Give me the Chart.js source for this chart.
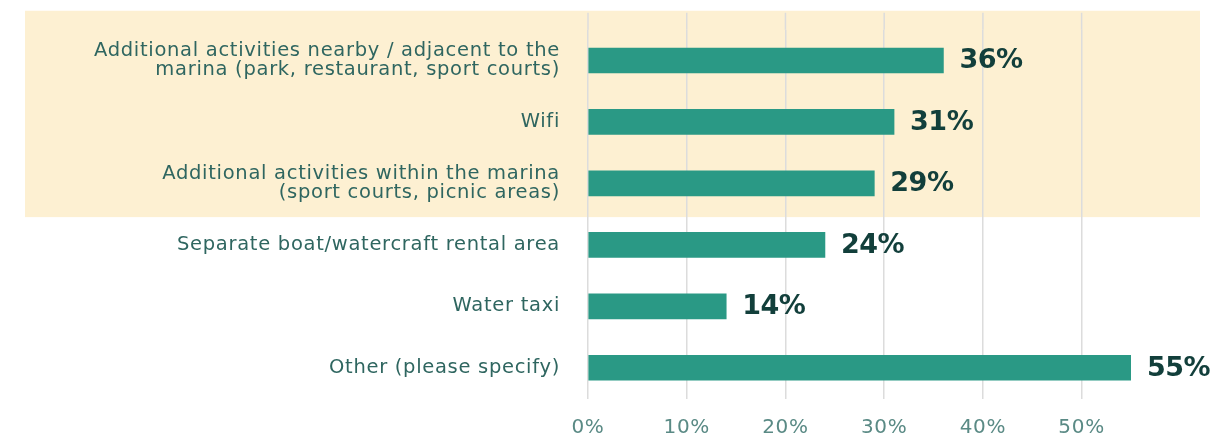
<!DOCTYPE html>
<html>
<head>
<meta charset="utf-8">
<script src="https://cdn.jsdelivr.net/npm/chart.js@4.4.1/dist/chart.umd.min.js"></script>
<style>
  html, body { margin: 0; padding: 0; background: #fff; }
  #wrap { width: 1218px; height: 438px; position: relative; }
</style>
</head>
<body>
<div id="wrap"><canvas id="chart"></canvas></div>
<script>
const categories = [
  ["Additional activities nearby / adjacent to the", "marina (park, restaurant, sport courts)"],
  "Wifi",
  ["Additional activities within the marina", "(sport courts, picnic areas)"],
  "Separate boat/watercraft rental area",
  "Water taxi",
  "Other (please specify)"
];
const shares = [36, 31, 29, 24, 14, 55];
const tickValues = [0, 10, 20, 30, 40, 50];
const highlighted = [0, 1, 2];

const barColor = "#2a9985";
const textColor = "#2f6660";
const gridColor = "#dcdcdc";
const fontFamily = "'DejaVu Sans'";

// wider letter spacing to get closer to the original geometric font
const spacingPlugin = {
  id: "spacing",
  beforeLayout(chart) { chart.ctx.letterSpacing = "0.7px"; },
  beforeDraw(chart) { chart.ctx.letterSpacing = "0.7px"; }
};

// Yellow band behind the first three answers (+ grid lines running up into it)
const bandPlugin = {
  id: "band",
  beforeDraw(chart) {
    const y = chart.scales.y;
    const x = chart.scales.x;
    const ctx = chart.ctx;
    const step = y.getPixelForValue(1) - y.getPixelForValue(0);
    const top = y.getPixelForValue(highlighted[0]) - step / 2 - 19;
    const bottom = y.getPixelForValue(highlighted[highlighted.length - 1]) + step / 2 + 3;
    ctx.save();
    ctx.fillStyle = "#fdf0d2";
    ctx.fillRect(25, top, 1175, bottom - top);
    ctx.strokeStyle = gridColor;
    ctx.lineWidth = 1.5;
    tickValues.forEach(v => {
      const px = x.getPixelForValue(v);
      ctx.beginPath();
      ctx.moveTo(px, top + 2);
      ctx.lineTo(px, chart.chartArea.top);
      ctx.stroke();
    });
    ctx.restore();
  }
};

// Bold value labels at bar ends
const valuePlugin = {
  id: "values",
  afterDatasetsDraw(chart) {
    const ctx = chart.ctx;
    const meta = chart.getDatasetMeta(0);
    ctx.save();
    ctx.letterSpacing = "-0.5px";
    ctx.font = "bold 27px " + fontFamily;
    ctx.fillStyle = "#123f3b";
    ctx.textBaseline = "middle";
    meta.data.forEach((bar, i) => {
      ctx.fillText(shares[i] + "%", bar.x + 16, bar.y + 1);
    });
    ctx.restore();
  }
};

new Chart(document.getElementById("chart"), {
  type: "bar",
  data: {
    labels: categories,
    datasets: [{
      data: shares,
      backgroundColor: barColor,
      barThickness: 25
    }]
  },
  options: {
    indexAxis: "y",
    responsive: true,
    maintainAspectRatio: false,
    animation: false,
    layout: { padding: { top: 24, right: 87, bottom: 0, left: 0 } },
    plugins: { legend: { display: false }, tooltip: { enabled: false } },
    scales: {
      x: {
        min: 0,
        max: 55,
        afterBuildTicks: axis => { axis.ticks = tickValues.map(v => ({ value: v })); },
        grid: { color: gridColor, lineWidth: 1.5, drawTicks: false },
        border: { display: false },
        ticks: {
          callback: v => v + "%",
          color: "#5a8a85",
          font: { family: fontFamily, size: 20 },
          padding: 17
        },
        afterFit: axis => { axis.height = 37; }
      },
      y: {
        grid: { display: false },
        border: { display: false },
        ticks: {
          color: textColor,
          font: { family: fontFamily, size: 19.5, lineHeight: 1.0 },
          padding: 20
        },
        afterFit: axis => { axis.width = 588; }
      }
    }
  },
  plugins: [spacingPlugin, bandPlugin, valuePlugin]
});
</script>
</body>
</html>
